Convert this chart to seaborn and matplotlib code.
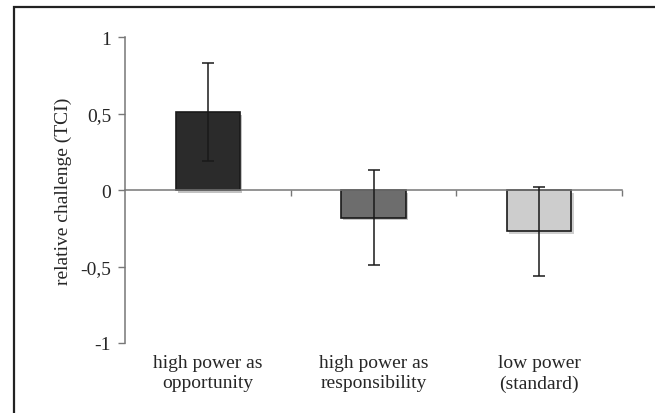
import pandas as pd
import matplotlib
matplotlib.use("Agg")
import matplotlib.pyplot as plt
import matplotlib.patheffects as pe
from matplotlib.patches import Rectangle
import seaborn as sns

conditions = ["high power as\nopportunity", "high power as\nresponsibility", "low power\n(standard)"]
means = [0.51, -0.18, -0.27]
errors = [0.32, 0.31, 0.29]
bar_colors = ["#2b2b2b", "#6d6d6d", "#cdcdcd"]
y_ticks = [-1, -0.5, 0, 0.5, 1]
y_tick_labels = ["-1", "-0,5", "0", "0,5", "1"]


def draw_chart(df):
    sns.set_style("white")
    plt.rcParams["font.family"] = ["Liberation Serif", "DejaVu Serif"]

    fig = plt.figure(figsize=(6.55, 4.14), dpi=100)
    ax = fig.add_axes([125 / 655, 1 - 344 / 414, (622 - 125) / 655, (344 - 38) / 414])

    sns.barplot(data=df, x="condition", y="mean", hue="condition", palette=bar_colors,
                errorbar=None, width=0.39, edgecolor="#1a1a1a", linewidth=1.2,
                legend=False, ax=ax)
    for bar in ax.patches:
        bar.set_path_effects([pe.SimplePatchShadow(offset=(1.5, -2), alpha=0.25), pe.Normal()])

    ax.errorbar(range(len(df)), df["mean"], yerr=df["error"], fmt="none",
                ecolor="#1a1a1a", elinewidth=1.1, capsize=4.5, capthick=1.1, zorder=5)

    ax.set_xlim(-0.5, 2.5)
    ax.set_ylim(-1, 1)
    ax.set_yticks(y_ticks)
    ax.set_yticklabels(y_tick_labels)
    ax.tick_params(axis="y", length=5, width=1, color="#777777", labelsize=14, pad=5,
                   left=True)

    # x axis sits at zero, category boundaries marked with minor ticks
    for side in ["top", "right"]:
        ax.spines[side].set_visible(False)
    ax.spines["bottom"].set_position(("data", 0))
    for side in ["left", "bottom"]:
        ax.spines[side].set_color("#777777")
        ax.spines[side].set_linewidth(1.1)
    ax.set_xticks([0.5, 1.5, 2.5], minor=True)
    ax.tick_params(axis="x", which="minor", length=4, width=1, color="#777777", bottom=True)
    ax.tick_params(axis="x", which="major", length=0, labelsize=14, pad=118)
    for lbl in ax.get_xticklabels():
        lbl.set_linespacing(1.25)

    ax.set_xlabel("")
    ax.set_ylabel("relative challenge (TCI)", fontsize=14, labelpad=6)

    fig.add_artist(Rectangle((14 / 655, -0.1), 1.2, 1.1 - 8 / 414, transform=fig.transFigure,
                             fill=False, edgecolor="#222222", linewidth=1.6))

    fig.savefig("out.png", dpi=100)


df = pd.DataFrame({"condition": conditions, "mean": means, "error": errors})
draw_chart(df)
